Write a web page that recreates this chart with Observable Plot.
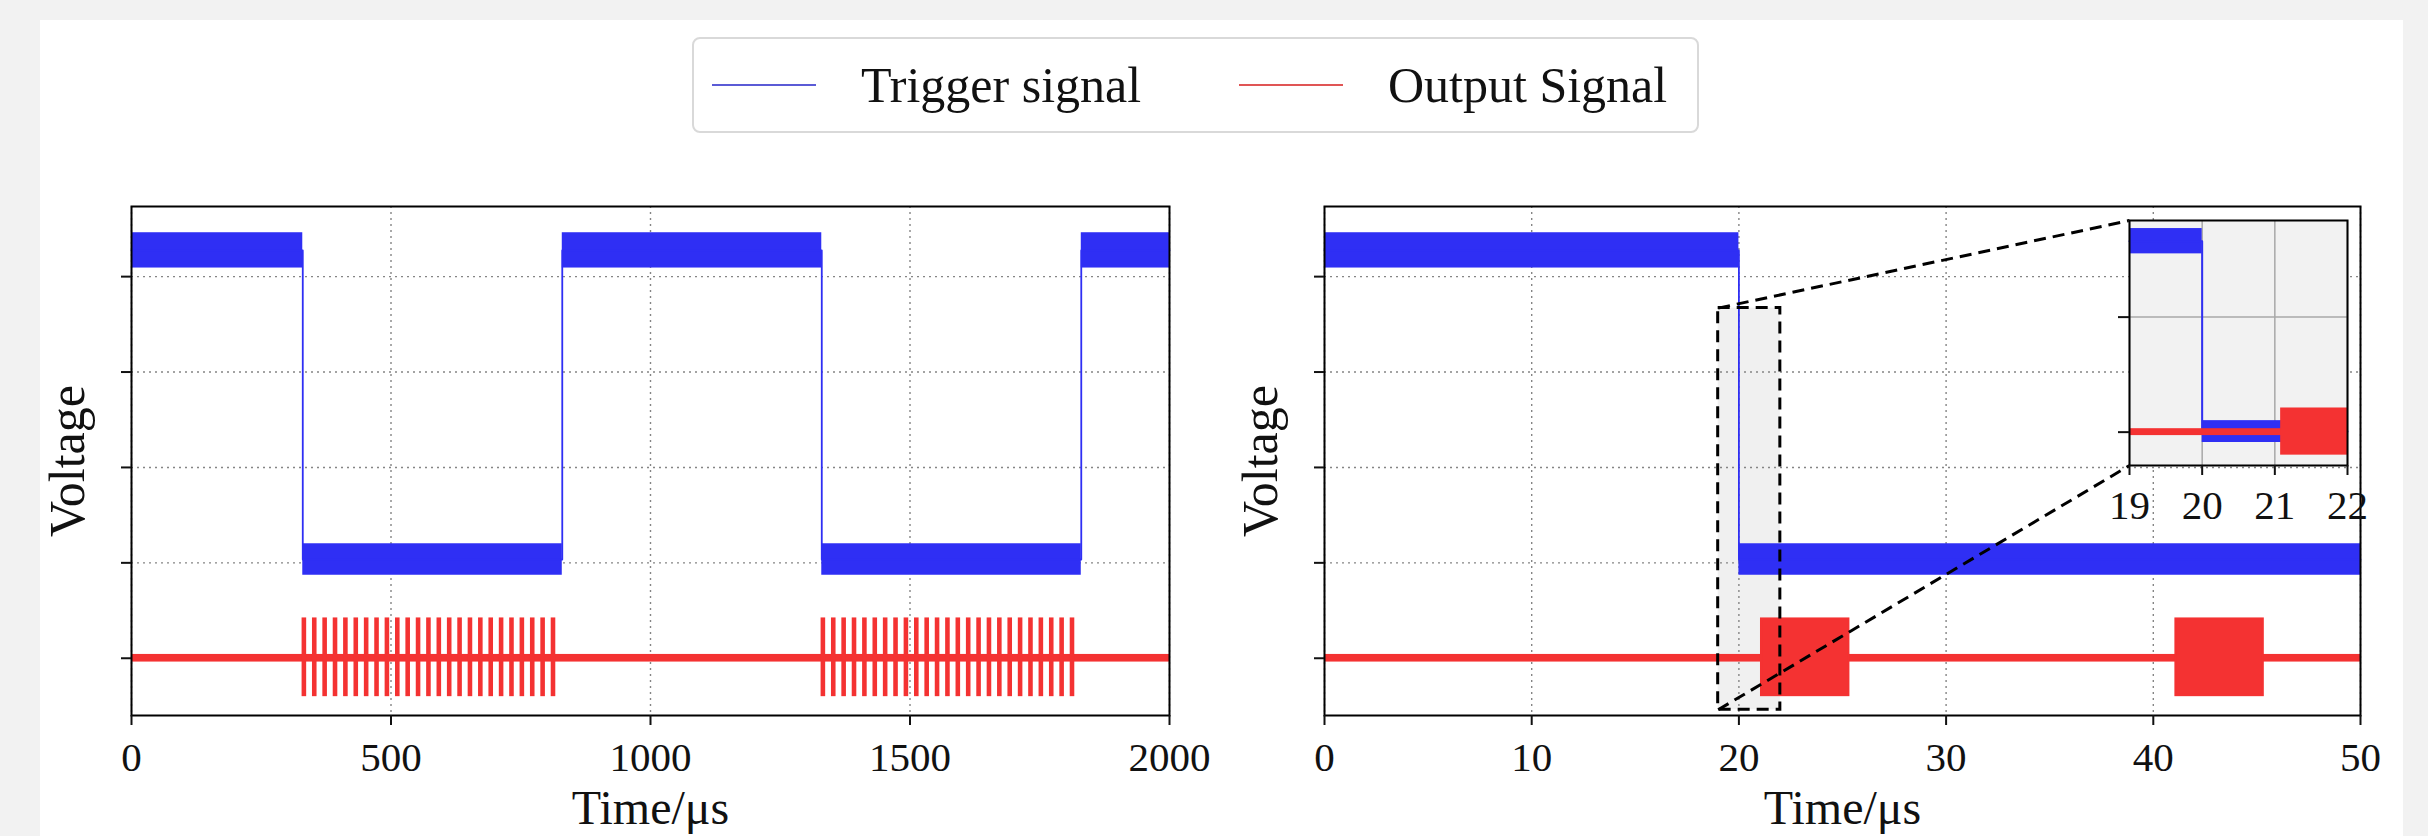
<!DOCTYPE html>
<html>
<head>
<meta charset="utf-8">
<script src="https://cdn.jsdelivr.net/npm/d3@7"></script>
<script src="https://cdn.jsdelivr.net/npm/@observablehq/plot@0.6"></script>
<style>
html, body { margin: 0; padding: 0; background: #f2f2f2; }
body { width: 2428px; height: 836px; position: relative; overflow: hidden; font-family: "Liberation Serif", "Times New Roman", serif; }
#panel { position: absolute; left: 40px; top: 20px; width: 2363px; height: 816px; background: #fff; }
#legend { position: absolute; left: 692px; top: 37px; width: 1003px; height: 92px; border: 2px solid #d9d9d9; border-radius: 8px; background: #fff; }
.item { position: absolute; top: 0; height: 92px; display: flex; align-items: center; font-size: 50px; color: #111; white-space: nowrap; }
.sw { display: inline-block; width: 104px; height: 0; border-top: 2px solid; margin-right: 45px; }
.plot { position: absolute; }
</style>
</head>
<body>
<div id="panel"></div>
<div id="legend"></div>
<div id="left" class="plot" style="left:0px; top:180px;"></div>
<div id="right" class="plot" style="left:1209px; top:180px;"></div>
<div id="inset" class="plot" style="left:2080px; top:200px;"></div>
<script>
// ---------------- data ----------------
const seriesNames = ["Trigger signal", "Output Signal"];
const xLabel = "Time/μs";
const yLabel = "Voltage";

const leftTicksX = [0, 500, 1000, 1500, 2000];
const rightTicksX = [0, 10, 20, 30, 40, 50];
const insetTicksX = [19, 20, 21, 22];
const voltTicks = [0, 1, 2, 3, 4];
const insetVoltTicks = [0, 1];

const voltDomain = [-0.6, 4.735];
const insetVoltDomain = [-0.29, 1.84];

// trigger bands (noise envelope) per level
const trigHighBand = [4.09, 4.46];
const trigLowBand = [0.87, 1.20];
const outBaseBand = [-0.04, 0.04];
const burstBand = [-0.39, 0.41];

// left panel: trigger segment edges and levels (µs)
const leftEdges = [0, 330, 830, 1330, 1830, 2000];
const leftLevels = ["high", "low", "high", "low", "high"];
// left panel: output pulse bursts start times (µs)
const leftBursts1 = [331, 351, 371, 391, 411, 431, 451, 471, 491, 511, 531, 551, 571, 591, 611, 631, 651, 671, 691, 711, 731, 751, 771, 791, 811];
const leftBursts2 = [1331, 1351, 1371, 1391, 1411, 1431, 1451, 1471, 1491, 1511, 1531, 1551, 1571, 1591, 1611, 1631, 1651, 1671, 1691, 1711, 1731, 1751, 1771, 1791, 1811];
const burstLength = 4.2;

// right panel
const rightEdges = [0, 20, 50];
const rightLevels = ["high", "low"];
const rightBurstStarts = [21.1, 41.1];
const rightBurstEnds = [25.3, 45.3];

// zoom box and connectors (right panel data coords)
const zoomBoxX = [19, 22];
const zoomBoxY = [-0.54, 3.67];
const connectFromY = [3.67, -0.54];
const connectToX = [38.85, 38.85];
const connectToY = [4.588, 2.02];

// inset
const insetEdges = [19, 20, 22];
const insetLevels = ["high", "low"];
const insetHighBand = [1.55, 1.77];
const insetLowBand = [-0.09, 0.10];
const insetBaseBand = [-0.03, 0.03];
const insetBurstX = [21.08, 22];
const insetBurstBand = [-0.2, 0.21];

// ---------------- styling ----------------
const BLUE = "#2f2ff4";
const RED = "#f43232";
const FONT = "'Liberation Serif', 'Times New Roman', serif";
const fmt = d => String(d);

// legend
const legend = document.getElementById("legend");
[[BLUE, 18], [RED, 545]].forEach(([c, left], i) => {
  const it = document.createElement("div");
  it.className = "item";
  it.style.left = left + "px";
  const sw = document.createElement("span");
  sw.className = "sw";
  sw.style.borderTopColor = i === 0 ? "#5b5bd6" : "#e05555";
  it.appendChild(sw);
  it.appendChild(document.createTextNode(seriesNames[i]));
  legend.appendChild(it);
});

// helpers
function bandRects(edges, levels, bandMap) {
  return levels.map((l, i) => ({x1: edges[i], x2: edges[i + 1], y1: bandMap[l][0], y2: bandMap[l][1]}));
}
function stepPoints(edges, levels, bandMap) {
  const pts = [];
  levels.forEach((l, i) => {
    const m = (bandMap[l][0] + bandMap[l][1]) / 2;
    pts.push({x: edges[i], y: m});
    pts.push({x: edges[i + 1], y: m});
  });
  return pts;
}
const mainBands = {high: trigHighBand, low: trigLowBand};
const gridStyle = {stroke: "#858585", strokeOpacity: 1, strokeWidth: 1.4, strokeDasharray: "2,4"};

function mainPlot({width, marginLeft, marginRight, xDomain, xTicks, edges, levels, bursts, under = [], over = []}) {
  return Plot.plot({
    width, height: 656, marginLeft, marginRight, marginTop: 26, marginBottom: 121,
    x: {domain: xDomain}, y: {domain: voltDomain},
    style: {fontFamily: FONT, fontSize: "41px", background: "transparent", overflow: "visible", color: "#111"},
    marks: [
      ...under,
      Plot.gridX(xTicks, gridStyle),
      Plot.gridY(voltTicks, gridStyle),
      Plot.rect(bandRects(edges, levels, mainBands), {x1: "x1", x2: "x2", y1: "y1", y2: "y2", fill: BLUE}),
      Plot.line(stepPoints(edges, levels, mainBands), {x: "x", y: "y", stroke: BLUE, strokeWidth: 1.8}),
      Plot.rect([{x1: xDomain[0], x2: xDomain[1]}], {x1: "x1", x2: "x2", y1: () => outBaseBand[0], y2: () => outBaseBand[1], fill: RED}),
      Plot.rect(bursts, {x1: "x1", x2: "x2", y1: () => burstBand[0], y2: () => burstBand[1], fill: RED, stroke: RED, strokeWidth: 2.4}),
      ...over,
      Plot.frame({stroke: "black", strokeWidth: 2}),
      Plot.axisX(xTicks, {tickSize: 10, tickPadding: 16, strokeWidth: 2, label: null, tickFormat: fmt, fontSize: 41}),
      Plot.axisY(voltTicks, {tickSize: 10, tickFormat: () => "", strokeWidth: 2, label: null}),
      Plot.text([yLabel], {text: d => d, frameAnchor: "left", rotate: -90, dx: -64, textAnchor: "middle", lineAnchor: "middle", fontSize: 50}),
      Plot.text([xLabel], {text: d => d, frameAnchor: "bottom", dy: 93, textAnchor: "middle", lineAnchor: "middle", fontSize: 48})
    ]
  });
}

const leftBurstRects = leftBursts1.concat(leftBursts2).map(t => ({x1: t, x2: t + burstLength}));
document.getElementById("left").appendChild(mainPlot({
  width: 1209, marginLeft: 131, marginRight: 40,
  xDomain: [0, 2000], xTicks: leftTicksX,
  edges: leftEdges, levels: leftLevels, bursts: leftBurstRects
}));

const rightBurstRects = rightBurstStarts.map((s, i) => ({x1: s, x2: rightBurstEnds[i]}));
const zoomRect = [{x1: zoomBoxX[0], x2: zoomBoxX[1], y1: zoomBoxY[0], y2: zoomBoxY[1]}];
const links = connectFromY.map((y, i) => ({x1: zoomBoxX[0], y1: y, x2: connectToX[i], y2: connectToY[i]}));
document.getElementById("right").appendChild(mainPlot({
  width: 1219, marginLeft: 115, marginRight: 68,
  xDomain: [0, 50], xTicks: rightTicksX,
  edges: rightEdges, levels: rightLevels, bursts: rightBurstRects,
  under: [Plot.rect(zoomRect, {x1: "x1", x2: "x2", y1: "y1", y2: "y2", fill: "#e6e6e6", fillOpacity: 0.6})],
  over: [
    Plot.rect(zoomRect, {x1: "x1", x2: "x2", y1: "y1", y2: "y2", fill: "none", stroke: "black", strokeWidth: 3, strokeDasharray: "12,7"}),
    Plot.link(links, {x1: "x1", y1: "y1", x2: "x2", y2: "y2", stroke: "black", strokeWidth: 3, strokeDasharray: "12,7"})
  ]
}));

const insetBands = {high: insetHighBand, low: insetLowBand};
document.getElementById("inset").appendChild(Plot.plot({
  width: 320, height: 340, marginLeft: 49, marginRight: 53, marginTop: 20, marginBottom: 75,
  x: {domain: [19, 22]}, y: {domain: insetVoltDomain},
  style: {fontFamily: FONT, fontSize: "41px", background: "transparent", overflow: "visible", color: "#111"},
  marks: [
    Plot.frame({fill: "#f2f2f2"}),
    Plot.gridX(insetTicksX, {stroke: "#a8a8a8", strokeOpacity: 1, strokeWidth: 1.5}),
    Plot.gridY(insetVoltTicks, {stroke: "#a8a8a8", strokeOpacity: 1, strokeWidth: 1.5}),
    Plot.rect(bandRects(insetEdges, insetLevels, insetBands), {x1: "x1", x2: "x2", y1: "y1", y2: "y2", fill: BLUE}),
    Plot.line(stepPoints(insetEdges, insetLevels, insetBands), {x: "x", y: "y", stroke: BLUE, strokeWidth: 2}),
    Plot.rect([{x1: 19, x2: 22}], {x1: "x1", x2: "x2", y1: () => insetBaseBand[0], y2: () => insetBaseBand[1], fill: RED}),
    Plot.rect([{x1: insetBurstX[0], x2: insetBurstX[1]}], {x1: "x1", x2: "x2", y1: () => insetBurstBand[0], y2: () => insetBurstBand[1], fill: RED}),
    Plot.frame({stroke: "black", strokeWidth: 2}),
    Plot.axisX(insetTicksX, {tickSize: 10, tickPadding: 14, strokeWidth: 2, label: null, tickFormat: fmt, fontSize: 41}),
    Plot.axisY(insetVoltTicks, {tickSize: 11, tickFormat: () => "", strokeWidth: 2, label: null})
  ]
}));
</script>
</body>
</html>
